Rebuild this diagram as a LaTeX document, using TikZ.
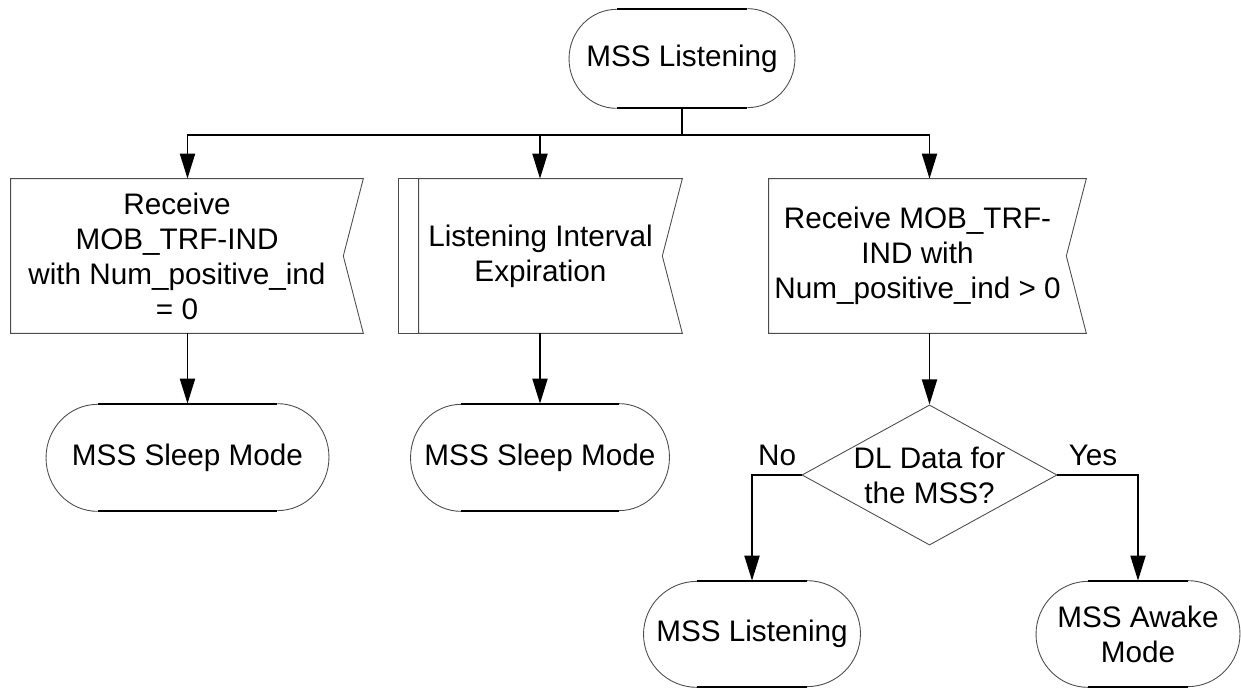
\documentclass[tikz,border=0pt]{standalone}
\usepackage{fontspec}
\setmainfont{Liberation Sans}
\usetikzlibrary{arrows.meta,positioning,shapes.geometric}

\tikzset{
  state/.style={rectangle, inner sep=0pt, align=center},
  signal/.style={rectangle, inner sep=0pt, align=center, minimum height=3.08cm},
  decision/.style={diamond, draw=black!70, line width=0.5pt, inner sep=0pt, aspect=1.82,
    align=center, minimum width=5.1cm, minimum height=2.8cm},
  outline/.style={draw=black!70, line width=0.5pt},
  bar/.style={line width=1.1pt},
  flow/.style={line width=1.1pt, -{Triangle[length=0.5cm, width=0.3cm]}},
}

\begin{document}
\begin{tikzpicture}[x=0.02cm, y=0.02cm, font=\fontsize{16.9}{19.9}\selectfont]
\useasboundingbox (0,0) rectangle (1241,-688);

% start state
\node[state, minimum width=4.52cm, minimum height=1.98cm] (top) at (682,-58.5) {MSS Listening};

% inputs
\node[signal, minimum width=6.64cm] (recvA) at (177,-256) {Receive\\MOB\_TRF-IND\\with Num\_positive\_ind\\= 0};
\node[signal, minimum width=4.86cm] (timer) at (540.5,-256) {Listening Interval\\Expiration};
\node[signal, minimum width=5.94cm] (recvB) at (917.5,-256) {Receive MOB\_TRF-\\IND with\\Num\_positive\_ind > 0};

% next states
\node[state, minimum width=5.66cm, minimum height=2.14cm] (sleepA) at (187.5,-457.5) {MSS Sleep Mode};
\node[state, minimum width=5.18cm, minimum height=2.14cm] (sleepB) at (540,-457.5) {MSS Sleep Mode};
\node[decision] (dl) at (929.5,-475) {DL Data for\\the MSS?};
\node[state, minimum width=4.34cm, minimum height=2.12cm] (listenBot) at (752,-634) {MSS Listening};
\node[state, minimum width=4.08cm, minimum height=2.12cm] (awake) at (1138,-634) {MSS Awake\\Mode};

\node[inner sep=0pt, above left=0.18cm and 0.1cm of dl.west] (no) {No};
\node[inner sep=0pt, above right=0.18cm and 0.22cm of dl.east] (yes) {Yes};

% oval outlines
\foreach \n/\h/\r/\s in {top/1.31cm/0.95cm/0.99cm, sleepA/1.80cm/1.03cm/1.07cm,
    sleepB/1.58cm/1.01cm/1.07cm, listenBot/1.1cm/1.07cm/1.06cm, awake/1.0cm/1.04cm/1.06cm}
{
  \draw[outline] ([xshift=\h]\n.north) arc[start angle=90, end angle=-90, x radius=\r, y radius=\s]
    ([xshift=-\h]\n.south) arc[start angle=270, end angle=90, x radius=\r, y radius=\s];
  \draw[bar] ([xshift=-\h]\n.north) -- ([xshift=\h]\n.north)
    ([xshift=-\h]\n.south) -- ([xshift=\h]\n.south);
}

% signal outlines
\foreach \n in {recvA, timer, recvB}
  \draw[outline] (\n.north west) -- ([xshift=0.4cm]\n.north east) -- (\n.east)
    -- ([xshift=0.4cm]\n.south east) -- (\n.south west) -- cycle;
\draw[outline] ([xshift=-0.4cm]timer.north west) rectangle (timer.south west);

% connectors
\coordinate (busA) at (187.5,-135);
\coordinate (busB) at (540,-135);
\coordinate (busC) at (929.5,-135);
\draw[bar] (top.south) -- (top.south |- busB);
\draw[flow] (busB) -- (busA) -- (busA |- recvA.north);
\draw[flow] (busB) -- (busC) -- (busC |- recvB.north);
\draw[flow] (busB) -- (busB |- timer.north);
\draw[flow] (sleepA.north |- recvA.south) -- (sleepA.north);
\draw[flow] (sleepB.north |- timer.south) -- (sleepB.north);
\draw[flow] (dl.north |- recvB.south) -- (dl.north);
\draw[flow] (dl.west) -| (listenBot.north);
\draw[flow] (dl.east) -| (awake.north);
\end{tikzpicture}
\end{document}
